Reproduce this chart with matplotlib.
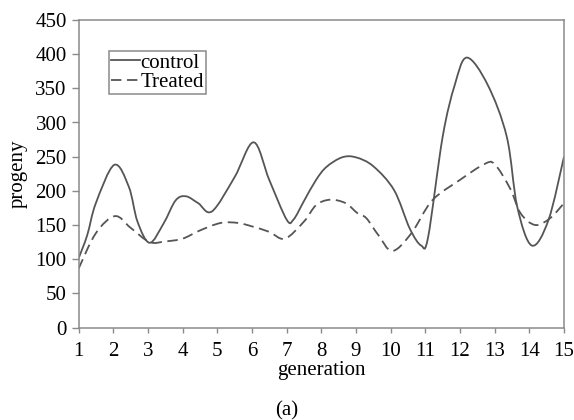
import numpy as np
import matplotlib
matplotlib.use("Agg")
import matplotlib.pyplot as plt
from matplotlib.path import Path
from matplotlib.patches import PathPatch
from matplotlib.lines import Line2D

# values (generation, progeny)
control_x = [1, 1.25, 1.5, 2.03, 2.45, 2.7, 3.05, 3.45, 3.8, 4.1, 4.45, 4.85, 5.5, 6.05, 6.5,
             7.0, 7.2, 7.5, 7.85, 8.15, 8.6, 9.0, 9.5, 10.1, 10.55, 10.88, 11.08, 11.5, 11.85,
             12.2, 12.8, 13.35, 13.65, 14.07, 14.55, 15]
control_y = [101, 135, 182, 238, 206, 155, 124, 152, 186, 192, 182, 170, 220, 271, 216,
             158, 158, 185, 216, 235, 249, 249, 236, 201, 145, 120, 132, 279, 355,
             395, 355, 279, 177, 120, 157, 250]

treated_x = [1, 1.5, 2.05, 2.5, 3.05, 3.5, 4.0, 4.5, 5.1, 5.6, 6.0, 6.5, 6.95, 7.5, 7.85,
             8.25, 8.7, 9.05, 9.3, 9.65, 10.05, 10.6, 11.2, 12.0, 12.7, 13.0, 13.45, 13.75,
             14.17, 14.6, 15]
treated_y = [86, 138, 163, 146, 125, 126, 130, 142, 153, 153, 148, 140, 130, 155, 179,
             187, 182, 167, 160, 135, 112, 138, 186, 216, 239, 239, 203, 167,
             150, 160, 182]

gen_ticks = list(range(1, 16))
y_ticks = list(range(0, 451, 50))

plt.rcParams["font.family"] = ["Liberation Serif", "DejaVu Serif"]
plt.rcParams["lines.scale_dashes"] = False

line_col = "#555555"
spine_col = "#8a8a8a"
fs = 15


def smooth_path(xs, ys, t=1 / 6):
    # excel-style smoothed line: cubic bezier through every point
    p = np.column_stack([xs, ys]).astype(float)
    n = len(p)
    verts = [p[0]]
    codes = [Path.MOVETO]
    for i in range(n - 1):
        prev = p[max(i - 1, 0)]
        nxt = p[min(i + 2, n - 1)]
        c1 = p[i] + (p[i + 1] - prev) * t
        c2 = p[i + 1] - (nxt - p[i]) * t
        verts += [c1, c2, p[i + 1]]
        codes += [Path.CURVE4] * 3
    return Path(verts, codes)


fig = plt.figure(figsize=(5.74, 4.2), dpi=100)
ax = fig.add_axes([0.1368, 0.2202, 0.8458, 0.7322])

ax.add_patch(PathPatch(smooth_path(control_x, control_y), facecolor="none",
                       edgecolor=line_col, lw=1.3))
ax.add_patch(PathPatch(smooth_path(treated_x, treated_y), facecolor="none",
                       edgecolor=line_col, lw=1.3, linestyle=(0, (7.5, 4))))

ax.set_xlim(1, 15)
ax.set_ylim(0, 450)
ax.set_xticks(gen_ticks)
ax.set_yticks(y_ticks)
ax.tick_params(axis="x", length=3.3, width=1, color=spine_col, pad=7, labelsize=fs)
ax.tick_params(axis="y", length=5, width=1, color=spine_col, pad=3.5, labelsize=fs)
for s in ax.spines.values():
    s.set_color(spine_col)
    s.set_linewidth(1.1)

ax.set_xlabel("generation", fontsize=fs)
ax.xaxis.set_label_coords(0.5, -0.11)
ax.set_ylabel("progeny", fontsize=fs)
ax.yaxis.set_label_coords(-0.104, 0.5)

handles = [Line2D([], [], color=line_col, lw=1.3, label="control"),
           Line2D([], [], color=line_col, lw=1.3, linestyle=(0, (7.5, 4)), label="Treated")]
leg = ax.legend(handles=handles, loc="upper left", bbox_to_anchor=(0.063, 0.899),
                borderaxespad=0, fancybox=False, framealpha=1, fontsize=fs,
                handlelength=1.4, handletextpad=0.0, borderpad=0.1, labelspacing=0.0)
leg.get_frame().set_edgecolor(spine_col)
leg.get_frame().set_linewidth(1.1)

fig.text(0.5, 0.022, "(a)", ha="center", va="center", fontsize=fs)

fig.savefig("out.png", dpi=100)
